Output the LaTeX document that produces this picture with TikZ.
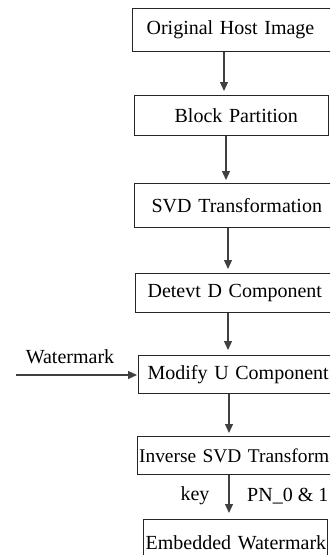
\documentclass[tikz,border=0pt]{standalone}
\usepackage{fontspec}
\setmainfont{Liberation Serif}
\usetikzlibrary{arrows.meta}
\begin{document}
\begin{tikzpicture}[x=1pt,y=-1pt,
  box/.style={draw=black!85, line width=1.2pt, anchor=north west, inner ysep=0pt, align=left,
    font=\fontsize{20}{24}\selectfont},
  lbl/.style={font=\fontsize{20}{24}\selectfont, inner sep=0pt},
  arr/.style={draw=black!75, line width=1.3pt, -{Triangle[width=8pt,length=9pt]}, shorten >=4pt}]
\useasboundingbox (0,0) rectangle (330,555);
\clip (0,0) rectangle (330,555);
% boxes: left, top, right, bottom
\node[box, inner xsep=14pt, text width=186pt, minimum height=43pt] (A) at (132,8) {\mbox{Original Host Image}};
\node[box, inner xsep=40pt, text width=114pt, minimum height=40pt] (B) at (134,95) {\mbox{Block Partition}};
\node[box, inner xsep=17pt, text width=190pt, minimum height=44pt] (C) at (134,183) {\mbox{SVD Transformation}};
\node[box, inner xsep=12pt, text width=200pt, minimum height=39pt] (D) at (135,273) {\mbox{Detevt D Component}};
\node[box, inner xsep=9pt, text width=200pt, minimum height=38pt] (E) at (138,355) {\mbox{Modify U Component}};
\node[box, inner xsep=1.5pt, text width=210pt, minimum height=38pt, font=\fontsize{19.4}{23}\selectfont] (F) at (137,436) {\mbox{Inverse SVD Transform}};
\node[box, inner xsep=2pt, text width=180pt, minimum height=46pt] (G) at (143,519) {\mbox{Embedded Watermark}};
% labels
\node[lbl] (wmlabel) at (70,357) {Watermark};
\node[lbl] (key) at (195,496) {key};
\node[lbl, anchor=west] (pn) at (247,496) {PN\_0 \& 1};
\coordinate (wm) at (16,375);
% connectors
\draw[arr] (A.south -| 224,0) -- (B.north -| 224,0);
\draw[arr, shorten >=3pt] (B.south -| 226,0) -- (C.north -| 226,0);
\draw[arr] (C.south -| 228,0) -- (D.north -| 228,0);
\draw[arr, shorten >=5pt] (D.south -| 228,0) -- (E.north -| 228,0);
\draw[arr, shorten >=3pt] (E.south -| 229,0) -- (F.north -| 229,0);
\draw[arr, shorten >=6pt] (F.south -| 229,0) -- (G.north -| 229,0);
\draw[arr, shorten >=1pt] (wm) -- (wm -| E.west);
\end{tikzpicture}
\end{document}
